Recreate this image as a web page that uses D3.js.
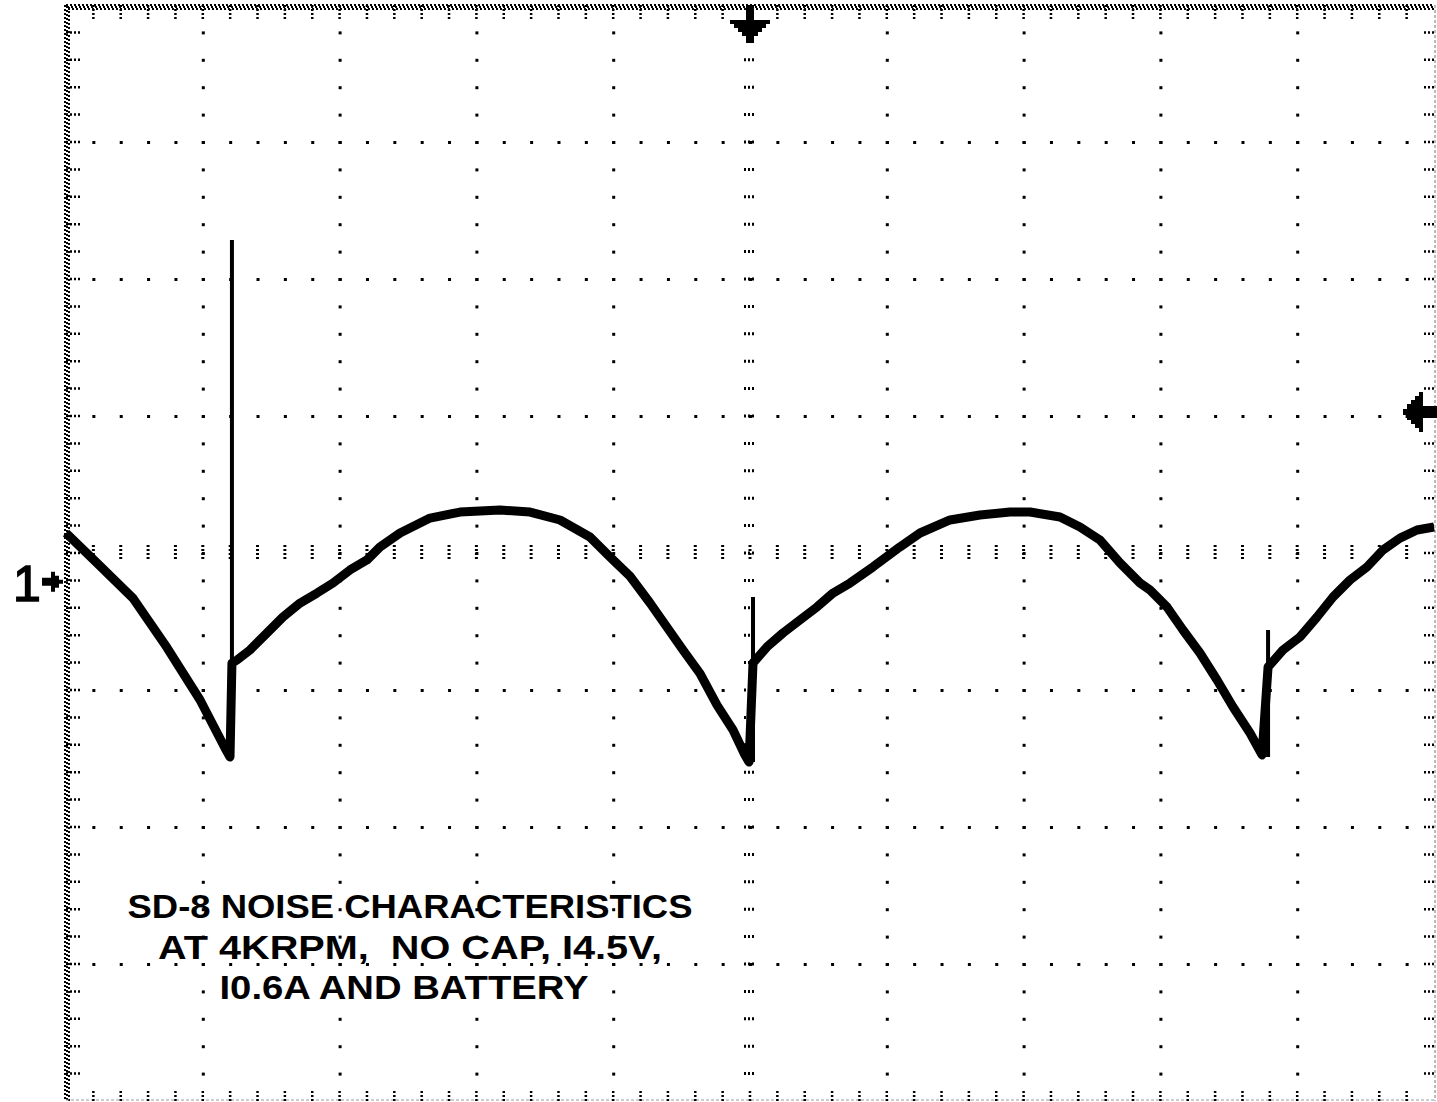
<!DOCTYPE html>
<html>
<head>
<meta charset="utf-8">
<script src="https://cdn.jsdelivr.net/npm/d3@7"></script>
<style>
  body { margin: 0; background: #fff; }
  svg { display: block; }
</style>
</head>
<body>
<script>
// screen is 10 x 8 divisions, values read in divisions
var xDivs = 10,
    yDivs = 8;

var traceTime = [0.000, 0.249, 0.490, 0.738, 0.980, 1.162, 1.199, 1.213, 1.250, 1.345, 1.469, 1.586,
                 1.711, 1.835, 1.952, 2.076, 2.200, 2.295, 2.442, 2.661, 2.880, 3.173, 3.392, 3.611,
                 3.830, 3.977, 4.123, 4.269, 4.510, 4.635, 4.759, 4.876, 4.963, 4.993, 5.022, 5.124,
                 5.241, 5.365, 5.490, 5.607, 5.731, 5.899, 6.096, 6.243, 6.462, 6.681, 6.901, 7.047,
                 7.266, 7.412, 7.558, 7.705, 7.851, 7.924, 8.048, 8.165, 8.289, 8.414, 8.531, 8.655,
                 8.743, 8.787, 8.896, 9.020, 9.145, 9.262, 9.386, 9.510, 9.627, 9.751, 9.876, 10.000];
var traceVolt = [0.146, -0.095, -0.330, -0.690, -1.073, -1.423, -1.489, -0.803, -0.781, -0.708, -0.584, -0.467,
                 -0.365, -0.292, -0.219, -0.124, -0.051, 0.044, 0.146, 0.255, 0.299, 0.314, 0.299, 0.241,
                 0.117, -0.029, -0.170, -0.365, -0.708, -0.880, -1.110, -1.292, -1.474, -1.526, -0.803, -0.686,
                 -0.584, -0.489, -0.394, -0.292, -0.219, -0.102, 0.044, 0.146, 0.241, 0.277, 0.299, 0.299,
                 0.263, 0.190, 0.095, -0.073, -0.219, -0.270, -0.394, -0.562, -0.730, -0.927, -1.124, -1.314,
                 -1.474, -0.832, -0.708, -0.613, -0.467, -0.321, -0.197, -0.102, 0.022, 0.109, 0.168, 0.190];

// commutation spikes
var spikeTime = [1.213, 5.022, 8.787],
    spikeLow  = [-1.489, -1.526, -1.489],
    spikeHigh = [2.285, -0.321, -0.562];

var groundLevel  = -0.21,
    triggerLevel = 1.03,
    triggerTime  = 5;

var noteLines = ["SD-8 NOISE CHARACTERISTICS", "AT 4KRPM,  NO CAP, I4.5V,", "I0.6A AND BATTERY"];

window.onload = function () {
  var W = 1437, H = 1102;
  var x = d3.scaleLinear().domain([0, xDivs]).range([66, 1434]),
      y = d3.scaleLinear().domain([-yDivs / 2, yDivs / 2]).range([1101, 5]);

  var svg = d3.select("body").append("svg").attr("width", W).attr("height", H);
  svg.append("rect").attr("width", W).attr("height", H).attr("fill", "#fff");

  var grid = svg.append("g");
  var minorX = d3.range(0, xDivs * 5 + 1).map(function (i) { return i / 5; }),
      minorY = d3.range(0, yDivs * 5 + 1).map(function (i) { return -yDivs / 2 + i / 5; });

  // dotted grid lines
  d3.range(1, xDivs).filter(function (d) { return d != xDivs / 2; }).forEach(function (gx) {
    grid.selectAll(null).data(minorY.slice(1, -1)).enter().append("rect")
      .attr("x", x(gx) - 1).attr("y", function (d) { return y(d) - 1; })
      .attr("width", 3).attr("height", 3).attr("fill", "#000");
  });
  d3.range(-yDivs / 2 + 1, yDivs / 2).filter(function (d) { return d != 0; }).forEach(function (gy) {
    grid.selectAll(null).data(minorX.slice(1, -1)).enter().append("rect")
      .attr("x", function (d) { return x(d) - 1; }).attr("y", y(gy) - 1)
      .attr("width", 3).attr("height", 3).attr("fill", "#000");
  });

  // centre graticule ticks
  grid.selectAll(null).data(minorY.slice(1, -1)).enter().append("line")
    .attr("x1", x(xDivs / 2) - 6).attr("x2", x(xDivs / 2) + 6)
    .attr("y1", function (d) { return y(d); }).attr("y2", function (d) { return y(d); })
    .attr("stroke", "#000").attr("stroke-width", 3).attr("stroke-dasharray", "2,2");
  grid.selectAll(null).data(minorX.slice(1, -1)).enter().append("line")
    .attr("x1", function (d) { return x(d); }).attr("x2", function (d) { return x(d); })
    .attr("y1", y(0) - 8).attr("y2", y(0) + 8)
    .attr("stroke", "#000").attr("stroke-width", 3).attr("stroke-dasharray", "2,2");

  // border: heavy stipple on left and top, faint dashes on right and bottom
  [0, 2, 4].forEach(function (o, k) {
    grid.append("line").attr("x1", x(0) - 1 + o).attr("x2", x(0) - 1 + o).attr("y1", y(4) + k).attr("y2", y(-4))
      .attr("stroke", "#000").attr("stroke-width", 2).attr("stroke-dasharray", "2,2");
    grid.append("line").attr("x1", x(0) + k).attr("x2", x(10)).attr("y1", y(4) + o).attr("y2", y(4) + o)
      .attr("stroke", "#000").attr("stroke-width", 2).attr("stroke-dasharray", "2,2");
  });
  grid.append("line").attr("x1", x(10) + 1).attr("x2", x(10) + 1).attr("y1", y(4)).attr("y2", y(-4))
    .attr("stroke", "#777").attr("stroke-width", 1).attr("stroke-dasharray", "3,2");
  grid.append("line").attr("x1", x(0)).attr("x2", x(10)).attr("y1", y(-4) - 1).attr("y2", y(-4) - 1)
    .attr("stroke", "#999").attr("stroke-width", 1).attr("stroke-dasharray", "3,2");

  // border ticks
  grid.selectAll(null).data(minorY.slice(1, -1)).enter().append("line")
    .attr("x1", x(0)).attr("x2", x(0) + 14)
    .attr("y1", function (d) { return y(d); }).attr("y2", function (d) { return y(d); })
    .attr("stroke", "#000").attr("stroke-width", 2.5).attr("stroke-dasharray", "2,2");
  grid.selectAll(null).data(minorY.slice(1, -1)).enter().append("line")
    .attr("x1", x(10)).attr("x2", x(10) - 12)
    .attr("y1", function (d) { return y(d); }).attr("y2", function (d) { return y(d); })
    .attr("stroke", "#000").attr("stroke-width", 2.5).attr("stroke-dasharray", "2,2");
  grid.selectAll(null).data(minorX.slice(1, -1)).enter().append("line")
    .attr("x1", function (d) { return x(d); }).attr("x2", function (d) { return x(d); })
    .attr("y1", y(4)).attr("y2", y(4) + 16)
    .attr("stroke", "#000").attr("stroke-width", 2.5).attr("stroke-dasharray", "2,2");
  grid.selectAll(null).data(minorX.slice(1, -1)).enter().append("line")
    .attr("x1", function (d) { return x(d); }).attr("x2", function (d) { return x(d); })
    .attr("y1", y(-4)).attr("y2", y(-4) - 11)
    .attr("stroke", "#000").attr("stroke-width", 2.5).attr("stroke-dasharray", "2,2");

  // trace
  var pts = traceTime.map(function (t, i) { return [t, traceVolt[i]]; });
  var line = d3.line().x(function (d) { return x(d[0]); }).y(function (d) { return y(d[1]); });
  svg.append("path").datum(pts).attr("d", line)
    .attr("fill", "none").attr("stroke", "#000").attr("stroke-width", 9)
    .attr("stroke-linejoin", "round");

  svg.selectAll(".spike").data(spikeTime).enter().append("line")
    .attr("class", "spike")
    .attr("x1", function (d) { return x(d); }).attr("x2", function (d) { return x(d); })
    .attr("y1", function (d, i) { return y(spikeLow[i]); })
    .attr("y2", function (d, i) { return y(spikeHigh[i]); })
    .attr("stroke", "#000").attr("stroke-width", 4);

  // markers
  svg.append("path")
    .attr("transform", "translate(" + x(triggerTime) + "," + y(4) + ")")
    .attr("d", "M-4,0 H4 V15 H20 V19 H16 V23 H12 V27 H8 V31 H4 V38 H-4 V31 H-8 V27 H-12 V23 H-16 V19 H-20 V15 H-4 Z")
    .attr("fill", "#000");
  svg.append("path")
    .attr("transform", "translate(1403," + y(triggerLevel) + ")")
    .attr("d", "M0,-3 H4 V-8 H8 V-12 H12 V-16 H16 V-20 H20 V-6 H34 V6 H20 V20 H16 V16 H12 V12 H8 V8 H4 V3 H0 Z")
    .attr("fill", "#000");
  svg.append("path")
    .attr("transform", "translate(63," + y(groundLevel) + ")")
    .attr("d", "M0,-2 H-4 V-6 H-8 V-10 H-12 V-4 H-21 V4 H-12 V10 H-8 V6 H-4 V2 H0 Z")
    .attr("fill", "#000");
  svg.append("text").attr("x", 13).attr("y", y(groundLevel) + 19)
    .attr("font-family", "Liberation Sans, Arial, sans-serif").attr("font-size", 50)
    .attr("stroke", "#000").attr("stroke-width", 1.5)
    .attr("fill", "#000").text("1");

  // note
  var widths = [565, 504, 369], centres = [410, 410, 404], bases = [918, 959, 999];
  svg.selectAll(".note").data(noteLines).enter().append("text")
    .attr("class", "note")
    .attr("x", function (d, i) { return centres[i]; })
    .attr("y", function (d, i) { return bases[i]; })
    .attr("text-anchor", "middle")
    .attr("textLength", function (d, i) { return widths[i]; })
    .attr("lengthAdjust", "spacingAndGlyphs")
    .style("white-space", "pre")
    .attr("font-family", "Liberation Sans, Arial, sans-serif")
    .attr("font-weight", "bold").attr("font-size", 34)
    .attr("fill", "#000")
    .text(function (d) { return d; });
};
</script>
</body>
</html>
